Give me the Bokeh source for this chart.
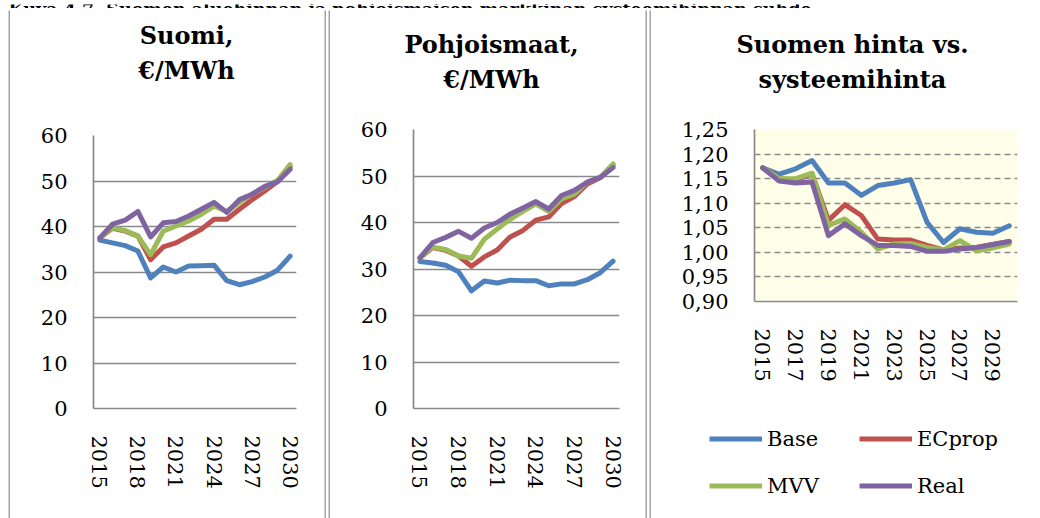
from bokeh.plotting import figure
from bokeh.models import (Range1d, FixedTicker, CustomJSTickFormatter, Label, Legend,
                          LegendItem)
from bokeh.layouts import row, column
from bokeh.embed import file_html
from bokeh.resources import INLINE

# ---------------- data ----------------
years = list(range(2015, 2031))
series_names = ["Base", "ECprop", "MVV", "Real"]
series_colors = ["#4F81BD", "#C0504D", "#9BBB59", "#8064A2"]

# Suomi, EUR/MWh
fi_base = [37.0, 36.4, 35.8, 34.6, 28.7, 31.1, 30.0, 31.3, 31.4, 31.5, 28.1, 27.2, 27.9, 28.9, 30.4, 33.5]
fi_ecprop = [37.5, 39.6, 39.0, 37.9, 32.7, 35.5, 36.4, 37.9, 39.4, 41.6, 41.6, 43.8, 45.9, 47.8, 49.9, 53.1]
fi_mvv = [37.5, 39.7, 39.1, 37.9, 33.8, 39.0, 40.1, 41.2, 42.7, 44.5, 43.3, 45.3, 47.1, 48.6, 50.1, 53.6]
fi_real = [37.5, 40.5, 41.4, 43.3, 37.7, 40.8, 41.1, 42.3, 43.8, 45.3, 43.1, 45.9, 47.1, 48.8, 49.8, 52.6]

# Pohjoismaat, EUR/MWh
no_base = [31.6, 31.3, 30.8, 29.4, 25.3, 27.4, 27.0, 27.6, 27.5, 27.5, 26.4, 26.8, 26.8, 27.7, 29.2, 31.7]
no_ecprop = [32.4, 34.6, 34.0, 32.8, 30.6, 32.6, 34.1, 36.9, 38.3, 40.5, 41.2, 44.1, 45.6, 48.3, 49.6, 52.3]
no_mvv = [32.4, 34.7, 34.2, 32.8, 32.3, 36.4, 38.6, 40.7, 42.4, 44.0, 42.4, 45.1, 46.1, 48.7, 49.7, 52.6]
no_real = [32.4, 35.7, 36.8, 38.1, 36.6, 38.8, 40.0, 41.8, 43.1, 44.5, 42.9, 45.8, 46.9, 48.7, 49.7, 51.8]

# Suomen hinta vs. systeemihinta
ratio_base = [1.172, 1.159, 1.170, 1.187, 1.141, 1.141, 1.116, 1.136, 1.141, 1.148, 1.061, 1.020, 1.048, 1.041, 1.039, 1.054]
ratio_ecprop = [1.172, 1.150, 1.147, 1.160, 1.065, 1.097, 1.075, 1.027, 1.025, 1.025, 1.014, 1.005, 1.009, 1.010, 1.016, 1.022]
ratio_mvv = [1.172, 1.150, 1.150, 1.161, 1.055, 1.068, 1.041, 1.007, 1.017, 1.018, 1.010, 1.005, 1.024, 1.003, 1.009, 1.017]
ratio_real = [1.172, 1.145, 1.141, 1.143, 1.034, 1.058, 1.034, 1.014, 1.014, 1.012, 1.002, 1.002, 1.007, 1.010, 1.016, 1.022]

caption = "Kuva 4.7. Suomen aluehinnan ja pohjoismaisen markkinan systeemihinnan suhde."
titles = ["Suomi,\n€/MWh", "Pohjoismaat,\n€/MWh", "Suomen hinta vs.\nsysteemihinta"]

x_ticks_12 = [2015, 2018, 2021, 2024, 2027, 2030]
x_ticks_3 = [2015, 2017, 2019, 2021, 2023, 2025, 2027, 2029]
y_ticks_12 = [0, 10, 20, 30, 40, 50, 60]
y_ticks_3 = [0.90, 0.95, 1.00, 1.05, 1.10, 1.15, 1.20, 1.25]
y_labels_3 = ["0,90", "0,95", "1,00", "1,05", "1,10", "1,15", "1,20", "1,25"]

# ---------------- style ----------------
FONT = "DejaVu Serif"
GRAY = "#8A8A8A"
BORDER = "#A4A4A4"


def blank(w, h, color="white"):
    p = figure(width=w, height=h, x_range=Range1d(0, w), y_range=Range1d(0, h),
               x_axis_location=None, y_axis_location=None, output_backend="svg",
               toolbar_location=None, min_border=0, frame_align=False)
    p.grid.visible = False
    p.outline_line_color = None
    p.background_fill_color = color
    p.border_fill_color = color
    return p


def make_fig(w, h, left, right, top, bottom, x_ticks, y_rng, y_ticks, dashed=False, bg="white"):
    p = figure(width=w, height=h, x_range=Range1d(years[0] - 0.5, years[-1] + 0.5),
               y_range=Range1d(*y_rng), output_backend="svg", toolbar_location=None,
               min_border_left=left, min_border_right=right, min_border_top=top,
               min_border_bottom=bottom, frame_align=False)
    p.outline_line_color = None
    p.background_fill_color = bg
    p.border_fill_color = "white"
    p.xgrid.visible = False
    p.ygrid.ticker = FixedTicker(ticks=y_ticks)
    p.ygrid.grid_line_color = GRAY
    p.ygrid.grid_line_width = 1.7
    if dashed:
        p.ygrid.grid_line_dash = "6 4"
    p.xaxis.ticker = FixedTicker(ticks=x_ticks)
    p.yaxis.ticker = FixedTicker(ticks=y_ticks)
    for ax in (p.xaxis[0], p.yaxis[0]):
        ax.axis_line_color = GRAY
        ax.axis_line_width = 1.7
        ax.major_tick_line_color = None
        ax.minor_tick_line_color = None
        ax.major_tick_out = 0
        ax.major_tick_in = 0
        ax.minor_tick_out = 0
        ax.minor_tick_in = 0
        ax.major_label_text_font = FONT
        ax.major_label_text_font_size = "21px"
        ax.major_label_text_color = "black"
    p.xaxis.major_label_orientation = "vertical"
    p.xaxis.major_label_standoff = 27
    p.yaxis.major_label_standoff = 26
    return p


def add_lines(p, series):
    rs = []
    for ys, col in zip(series, series_colors):
        r = p.line(years, ys, line_color=col, line_width=5, line_join="round", line_cap="round")
        rs.append(r)
    return rs


def title_fig(w, h, text, cx, cy):
    t = blank(w, h)
    t.add_layout(Label(x=cx, y=cy, text=text, text_align="center", text_baseline="middle",
                       text_font=FONT, text_font_style="bold", text_font_size="24px",
                       text_color="black", text_line_height=1.2))
    return t


# caption (only its lower part is visible, as in the source page)
cap = blank(1040, 8)
cap.add_layout(Label(x=8, y=3.5, text=caption, text_align="left", text_baseline="alphabetic",
                     text_font=FONT, text_font_style="bold", text_font_size="17.5px",
                     text_color="black"))

# panel 1
t1 = title_fig(314, 100, titles[0], 176, 57.5)
p1 = make_fig(314, 408, 83, 28, 25, 110, x_ticks_12, (0, 60), y_ticks_12)
add_lines(p1, [fi_base, fi_ecprop, fi_mvv, fi_real])

# panel 2
t2 = title_fig(315, 100, titles[1], 161, 48.5)
p2 = make_fig(315, 408, 83, 26, 19, 110, x_ticks_12, (0, 60), y_ticks_12)
add_lines(p2, [no_base, no_ecprop, no_mvv, no_real])

# panel 3
t3 = title_fig(389, 100, titles[2], 201, 48.5)
p3 = make_fig(389, 290, 103, 23, 19, 99, x_ticks_3, (0.90, 1.25), y_ticks_3,
              dashed=True, bg="#FFFFE9")
add_lines(p3, [ratio_base, ratio_ecprop, ratio_mvv, ratio_real])
p3.yaxis.formatter = CustomJSTickFormatter(
    args=dict(tvals=y_ticks_3, tlabels=y_labels_3),
    code="const i = tvals.findIndex(t => Math.abs(t - tick) < 1e-6); return i >= 0 ? tlabels[i] : '';")

# legend panel below chart 3 (legend glyphs use the same line styles, kept out of view)
lg = blank(389, 118)
proxies = [lg.line(x=[-20, -10], y=[-20, -20], line_color=c, line_width=5) for c in series_colors]
legend = Legend(items=[LegendItem(label=n, renderers=[r]) for n, r in zip(series_names, proxies)],
                location=(58, 10), orientation="horizontal", ncols=2,
                glyph_width=53, glyph_height=45, label_height=45, label_width=90,
                label_standoff=5, spacing=2, padding=0, margin=0,
                border_line_alpha=0, background_fill_alpha=0,
                label_text_font=FONT, label_text_font_size="21px", label_text_color="black")
lg.add_layout(legend, "center")

col1 = column(t1, p1, spacing=0)
col2 = column(t2, p2, spacing=0)
col3 = column(t3, p3, lg, spacing=0)


def double_sep():
    return row(blank(2, 508, BORDER), blank(2, 508), blank(2, 508, BORDER), spacing=0)


layout = column(cap,
                row(blank(8, 2), blank(1032, 2, BORDER), spacing=0),
                row(blank(8, 508), blank(2, 508, BORDER), col1, double_sep(), col2,
                    double_sep(), col3, spacing=0),
                spacing=0)

open("out.html", "w").write(file_html(layout, INLINE))
